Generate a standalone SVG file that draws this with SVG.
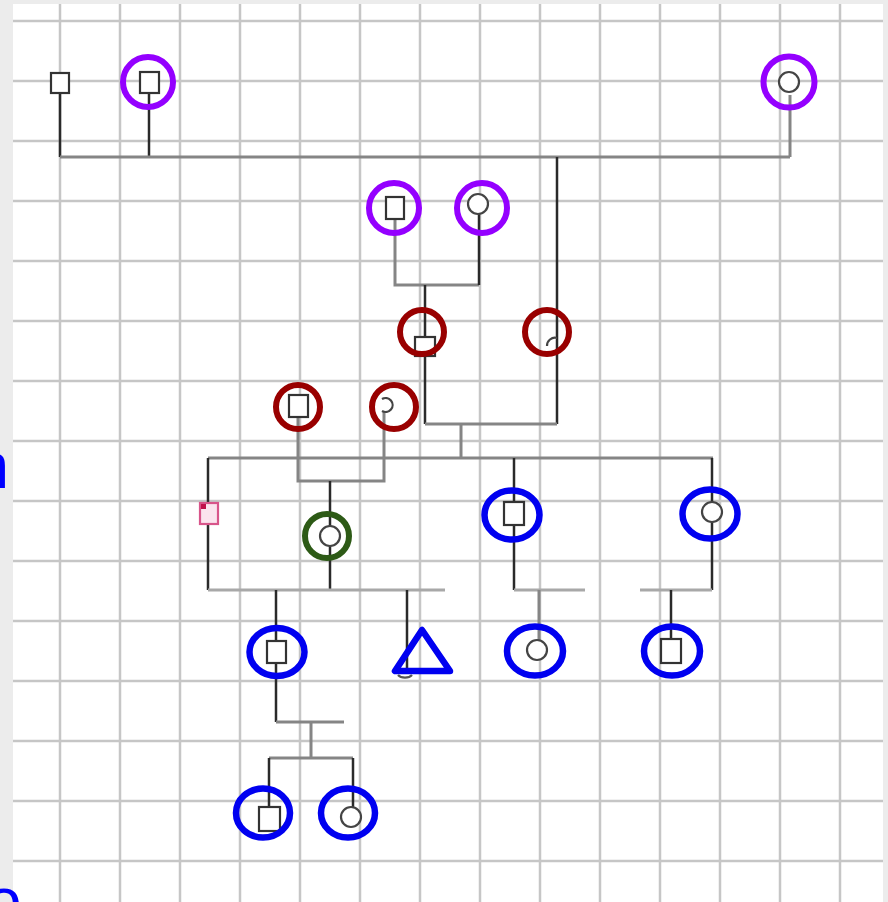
<svg xmlns="http://www.w3.org/2000/svg" width="888" height="902" viewBox="0 0 888 902">
<defs>
<style>
.grid line{stroke:#c6c6c6;stroke-width:2.5}
.dk{stroke:#2a2a2a;stroke-width:2.5;fill:none}
.gy{stroke:#858585;stroke-width:3;fill:none}
.lg{stroke:#a8a8a8;stroke-width:3;fill:none}
.sq{fill:#fff;stroke:#333;stroke-width:2.2}
.fe{fill:#fff;stroke:#444;stroke-width:2.2}
.rp{fill:none;stroke:#9400ff;stroke-width:6}
.rr{fill:none;stroke:#990000;stroke-width:6}
.rg{fill:none;stroke:#2d5a16;stroke-width:6}
.rb{fill:none;stroke:#0000f0;stroke-width:6.5}
.lbl{font-family:"Liberation Sans",Arial,sans-serif;font-size:64px;fill:#0000ff}
</style>
</defs>
<rect x="0" y="0" width="888" height="902" fill="#ececec"/>
<rect x="13" y="4" width="870" height="898" fill="#ffffff"/>
<g class="grid">
<line x1="60" y1="4" x2="60" y2="902"/><line x1="120" y1="4" x2="120" y2="902"/><line x1="180" y1="4" x2="180" y2="902"/><line x1="240" y1="4" x2="240" y2="902"/><line x1="300" y1="4" x2="300" y2="902"/><line x1="360" y1="4" x2="360" y2="902"/><line x1="420" y1="4" x2="420" y2="902"/><line x1="480" y1="4" x2="480" y2="902"/><line x1="540" y1="4" x2="540" y2="902"/><line x1="600" y1="4" x2="600" y2="902"/><line x1="660" y1="4" x2="660" y2="902"/><line x1="720" y1="4" x2="720" y2="902"/><line x1="780" y1="4" x2="780" y2="902"/><line x1="840" y1="4" x2="840" y2="902"/>
<line x1="13" y1="21" x2="883" y2="21"/><line x1="13" y1="81" x2="883" y2="81"/><line x1="13" y1="141" x2="883" y2="141"/><line x1="13" y1="201" x2="883" y2="201"/><line x1="13" y1="261" x2="883" y2="261"/><line x1="13" y1="321" x2="883" y2="321"/><line x1="13" y1="381" x2="883" y2="381"/><line x1="13" y1="441" x2="883" y2="441"/><line x1="13" y1="501" x2="883" y2="501"/><line x1="13" y1="561" x2="883" y2="561"/><line x1="13" y1="621" x2="883" y2="621"/><line x1="13" y1="681" x2="883" y2="681"/><line x1="13" y1="741" x2="883" y2="741"/><line x1="13" y1="801" x2="883" y2="801"/><line x1="13" y1="861" x2="883" y2="861"/>
</g>
<text class="lbl" x="9" y="488" text-anchor="end">n</text>
<text class="lbl" x="-14" y="923">o</text>
<g id="connectors">
<path class="dk" d="M60 92V157"/>
<path class="dk" d="M149 93V157"/>
<path class="gy" d="M60 157H790"/>
<path class="gy" d="M790 95V157"/>
<path class="dk" d="M557 157V424"/>
<path class="gy" d="M395 219V285H479"/>
<path class="dk" d="M479 212V285"/>
<path class="dk" d="M425 285V424"/>
<path class="gy" d="M425 424H557"/>
<path class="gy" d="M461 424V458"/>
<path class="gy" d="M208 458H713"/>
<path class="gy" d="M298 417V481H384V410"/>
<path class="dk" d="M330 481V590"/>
<path class="dk" d="M208 458V590"/>
<path class="lg" d="M208 590H445"/>
<path class="dk" d="M276 590V722"/>
<path class="dk" d="M407 590V672"/>
<path class="dk" d="M514 458V590"/>
<path class="lg" d="M514 590H585"/>
<path class="gy" d="M539 590V645"/>
<path class="dk" d="M712 458V590"/>
<path class="lg" d="M640 590H712"/>
<path class="dk" d="M671 590V645"/>
<path class="gy" d="M276 722H344"/>
<path class="gy" d="M311 722V758"/>
<path class="gy" d="M269 758H353"/>
<path class="dk" d="M269 758V810"/>
<path class="dk" d="M353 758V812"/>
</g>
<g id="n1"><rect class="sq" x="51" y="73" width="18" height="20"/></g>
<g id="n2"><rect class="sq" x="140" y="72" width="19" height="21"/><circle class="rp" cx="148" cy="82" r="25"/></g>
<g id="n3"><circle class="fe" cx="789" cy="82" r="10"/><circle class="rp" cx="789" cy="82" r="25.5"/></g>
<g id="n4"><rect class="sq" x="386" y="197" width="18" height="22"/><circle class="rp" cx="394" cy="208" r="25"/></g>
<g id="n5"><circle class="fe" cx="478" cy="204" r="10"/><circle class="rp" cx="482" cy="208" r="25"/></g>
<g id="n6"><rect class="sq" x="415" y="337" width="20" height="19"/><circle class="rr" cx="422" cy="332" r="22"/></g>
<g id="n7"><path class="fe" d="M547 346a8 8 0 0 1 10 -8" fill="none"/><circle class="rr" cx="547" cy="332" r="22"/></g>
<g id="n8"><rect class="sq" x="289" y="395" width="19" height="22"/><circle class="rr" cx="298" cy="407" r="22"/></g>
<g id="n9"><path class="fe" d="M382 399a7 7 0 1 1 0 12" fill="none"/><circle class="rr" cx="394" cy="407" r="22"/></g>
<g id="n10"><rect x="200" y="503" width="18" height="21" fill="#fbe4ee" stroke="#d8558a" stroke-width="2.2"/><rect x="201" y="504" width="5" height="5" fill="#c0104a"/></g>
<g id="n11"><circle class="fe" cx="330" cy="536" r="10"/><circle class="rg" cx="327" cy="536" r="22"/></g>
<g id="n12"><rect class="sq" x="504" y="502" width="20" height="23"/><ellipse class="rb" cx="512" cy="515" rx="27.5" ry="24.5"/></g>
<g id="n13"><circle class="fe" cx="712" cy="512" r="10"/><ellipse class="rb" cx="710" cy="514" rx="27.5" ry="24.5"/></g>
<g id="n14"><rect class="sq" x="267" y="641" width="19" height="22"/><ellipse class="rb" cx="277" cy="652" rx="27.5" ry="24"/></g>
<g id="n15"><path d="M398 675a8 5 0 0 0 14 0" fill="none" stroke="#555" stroke-width="2.2"/><polygon points="422,630 395,671 450,671" fill="none" stroke="#0000f0" stroke-width="6.5" stroke-linejoin="round"/></g>
<g id="n16"><circle class="fe" cx="537" cy="650" r="10"/><ellipse class="rb" cx="535" cy="651" rx="28" ry="24.5"/></g>
<g id="n17"><rect class="sq" x="661" y="639" width="20" height="24"/><ellipse class="rb" cx="672" cy="651" rx="28" ry="24.5"/></g>
<g id="n18"><rect class="sq" x="259" y="807" width="21" height="24"/><ellipse class="rb" cx="263" cy="813" rx="27" ry="24.5"/></g>
<g id="n19"><circle class="fe" cx="351" cy="817" r="10"/><ellipse class="rb" cx="348" cy="813" rx="27" ry="24.5"/></g>
</svg>
